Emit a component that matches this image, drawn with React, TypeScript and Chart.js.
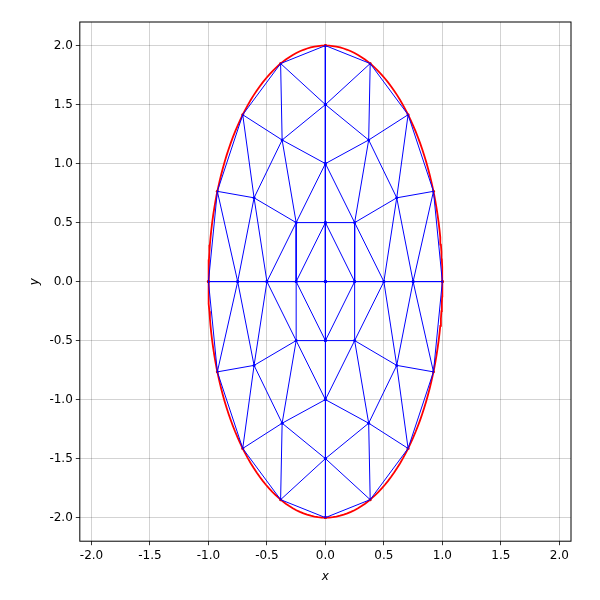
import React, { useEffect, useRef } from "react";
import { Chart, registerables } from "chart.js";
Chart.register(...registerables);

const A = 1;
const B = 2;
const tickValues = [-2.0, -1.5, -1.0, -0.5, 0.0, 0.5, 1.0, 1.5, 2.0];
// quadrant nodes (x >= 0, y >= 0)
const nodes: Record<string, [number, number]> = {
  B0: [1, 0], B1: [0.924, 0.765], B2: [0.707, 1.414], B3: [0.383, 1.848], B4: [0, 2],
  R0: [0.75, 0], R1: [0.61, 0.71], R2: [0.37, 1.2], R3: [0, 1.5],
  Q0: [0.5, 0], Q1: [0.25, 0.5], Q2: [0, 1],
  P0: [0.25, 0], P1: [0, 0.5], C: [0, 0],
};
const boundaryNames = ["B0", "B1", "B2", "B3", "B4"];
const edges: [string, string][] = [
  ["B0", "B1"], ["B1", "B2"], ["B2", "B3"], ["B3", "B4"],
  ["B4", "R3"], ["B3", "R3"], ["B3", "R2"], ["B2", "R2"], ["B2", "R1"], ["B1", "R1"], ["B1", "R0"], ["B0", "R0"],
  ["R3", "R2"], ["R2", "R1"], ["R1", "R0"],
  ["R3", "Q2"], ["R2", "Q2"], ["R2", "Q1"], ["R1", "Q1"], ["R1", "Q0"], ["R0", "Q0"],
  ["Q2", "Q1"], ["Q1", "Q0"], ["Q2", "P1"], ["Q1", "P1"], ["Q1", "P0"], ["P1", "P0"], ["Q0", "P0"], ["P0", "C"], ["P1", "C"],
];
const signs: [number, number][] = [[1, 1], [-1, 1], [1, -1], [-1, -1]];

export default function App() {
  const ref = useRef<HTMLCanvasElement>(null);
  useEffect(() => {
    const datasets: any[] = [];
    for (const [sx, sy] of signs) {
      for (const [a, b] of edges) {
        const p = nodes[a], q = nodes[b];
        datasets.push({
          data: [{ x: sx * p[0], y: sy * p[1] }, { x: sx * q[0], y: sy * q[1] }],
          showLine: true, borderColor: "#0000ff", borderWidth: 1, pointRadius: 0,
        });
      }
    }
    const blue: any[] = [], red: any[] = [];
    for (const [sx, sy] of signs)
      for (const k of Object.keys(nodes)) {
        const pt = { x: sx * nodes[k][0], y: sy * nodes[k][1] };
        (boundaryNames.includes(k) ? red : blue).push(pt);
      }
    datasets.push({ data: blue, pointRadius: 1.5, backgroundColor: "#0000ff", borderWidth: 0 });
    const ell: any[] = [];
    for (let i = 0; i <= 200; i++) {
      const t = (i / 200) * 2 * Math.PI;
      ell.push({ x: A * Math.cos(t), y: B * Math.sin(t) });
    }
    datasets.push({ data: ell, showLine: true, borderColor: "#ff0000", borderWidth: 1.8, pointRadius: 0 });
    datasets.push({ data: red, pointRadius: 1.5, backgroundColor: "#cc0000", borderWidth: 0 });

    const frame = {
      id: "frame",
      afterDraw(c: any) {
        const { ctx, chartArea: ca } = c;
        ctx.save(); ctx.strokeStyle = "#000"; ctx.lineWidth = 1;
        ctx.strokeRect(ca.left, ca.top, ca.right - ca.left, ca.bottom - ca.top);
        ctx.restore();
      },
    };
    const axis = (min: number, max: number, title: string) => ({
      type: "linear", min, max,
      afterBuildTicks: (s: any) => { s.ticks = tickValues.map((v) => ({ value: v })); },
      ticks: { callback: (v: any) => Number(v).toFixed(1), color: "#000", font: { family: "DejaVu Sans", size: 12 }, autoSkip: false },
      grid: { color: "rgba(0,0,0,0.22)", tickColor: "#000", tickLength: 4, lineWidth: 0.8 },
      border: { display: false },
      title: { display: true, text: title, color: "#000", font: { family: "DejaVu Sans", size: 12, style: "italic" } },
    });
    const chart = new Chart(ref.current!, {
      type: "scatter",
      data: { datasets },
      options: {
        animation: false, responsive: false,
        layout: { padding: { left: 24, right: 29, top: 22, bottom: 12 } },
        plugins: { legend: { display: false }, tooltip: { enabled: false } },
        scales: { x: axis(-2.1, 2.1, "x"), y: axis(-2.2, 2.2, "y") } as any,
      },
      plugins: [frame],
    });
    return () => chart.destroy();
  }, []);
  return <canvas ref={ref} width={600} height={600} style={{ position: "absolute", left: 0, top: 0 }} />;
}
